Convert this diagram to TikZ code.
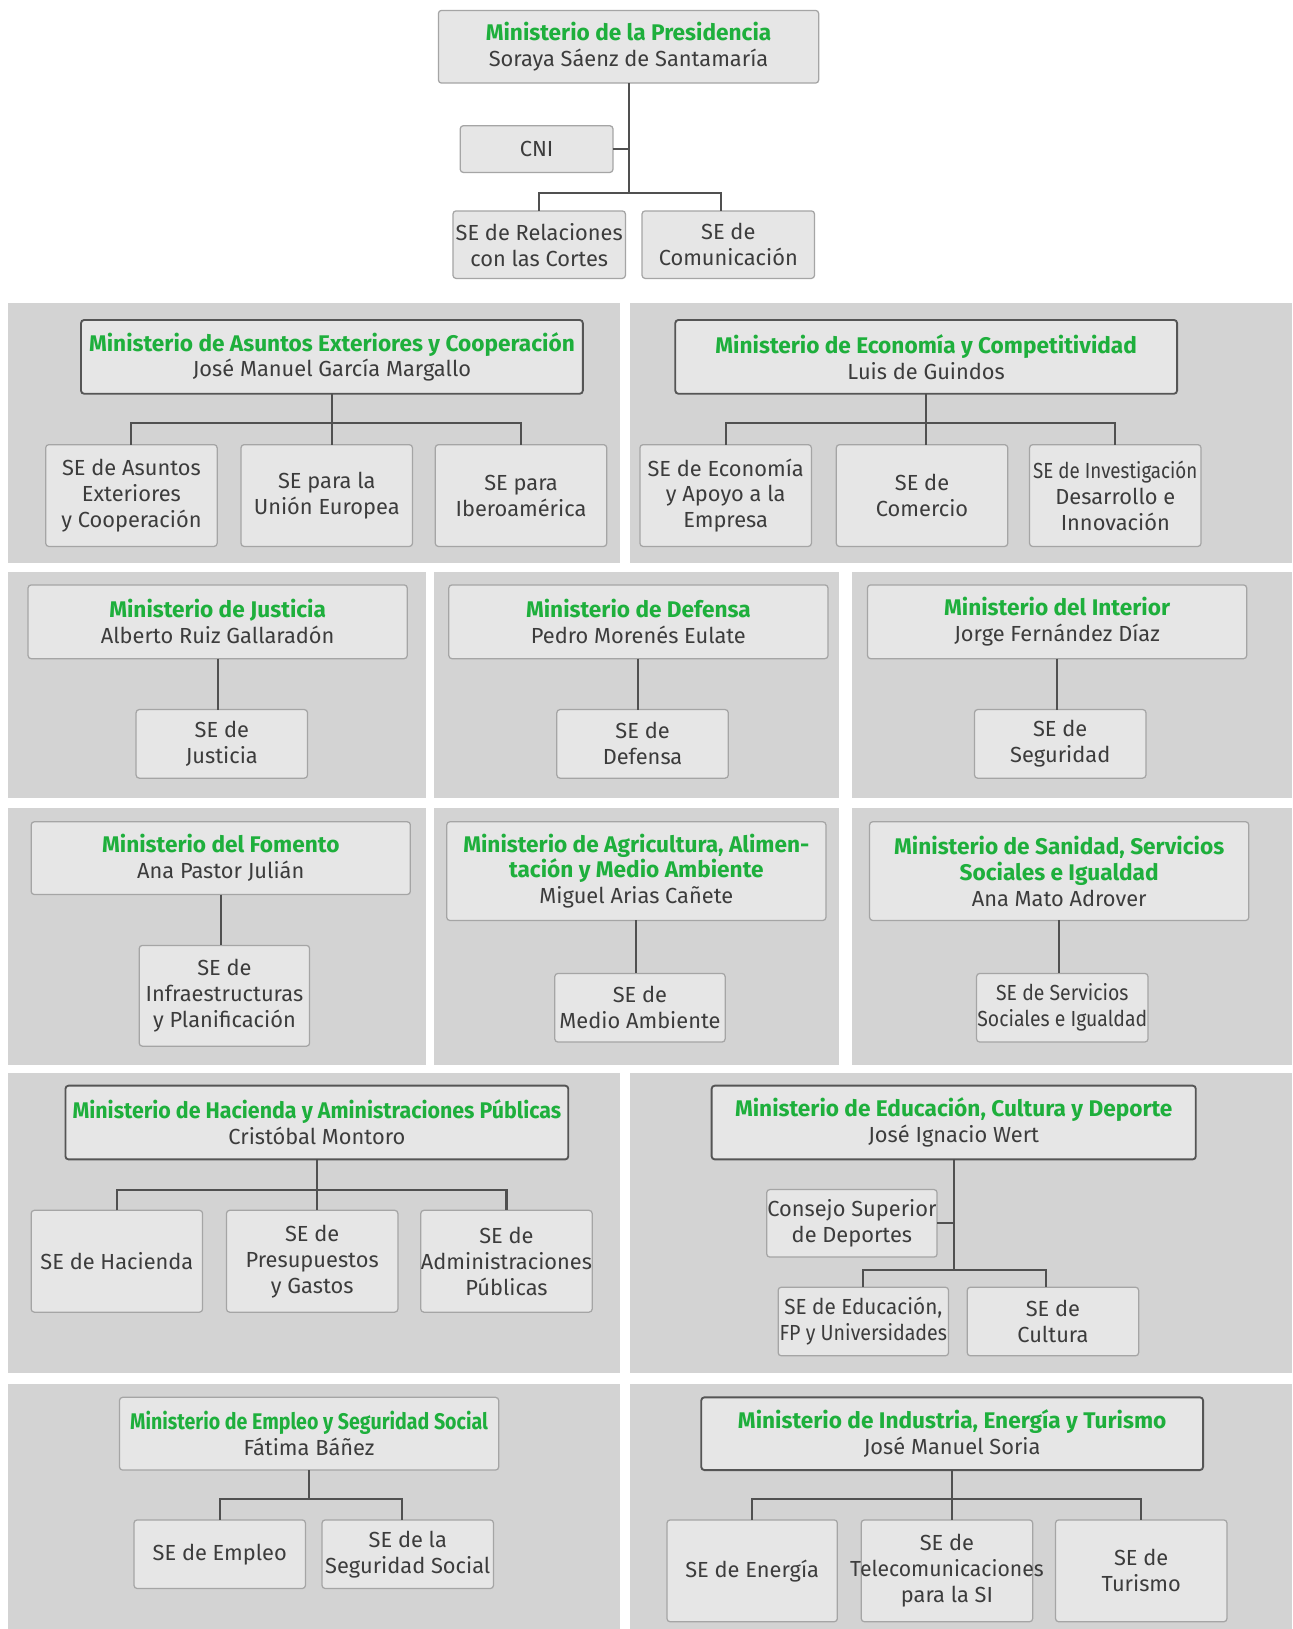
\documentclass[tikz,border=0pt]{standalone}
\usepackage{fontspec}
\setmainfont{Fira Sans}
\usepackage{graphicx}
\definecolor{panelgray}{RGB}{211,211,211}
\definecolor{boxfill}{RGB}{230,230,230}
\definecolor{lightborder}{RGB}{165,165,165}
\definecolor{darkborder}{RGB}{85,85,85}
\definecolor{mingreen}{RGB}{30,175,60}
\definecolor{txtgray}{RGB}{60,60,60}
\definecolor{linegray}{RGB}{80,80,80}
\newcommand{\mintitle}[1]{{\fontsize{10.9}{12.5}\selectfont\color{mingreen}\bfseries #1}}
\newcommand{\narrowtxt}[2][0.86]{\scalebox{#1}[1]{#2}}
\begin{document}
\begin{tikzpicture}[x=0.5pt,y=-0.5pt,
  basebox/.style={draw=lightborder, fill=boxfill, rounded corners=1.5pt, line width=0.6pt,
    inner sep=0pt, outer sep=0pt, anchor=north west, align=center, text=txtgray,
    font=\fontsize{10.5}{12.5}\selectfont},
  sz/.style 2 args={minimum width=#1*0.5pt, minimum height=#2*0.5pt},
  minbox/.style={basebox},
  mindark/.style={basebox, draw=darkborder, line width=0.9pt},
  sebox/.style={basebox},
  conn/.style={draw=linegray, line width=1pt},
  panel/.style={fill=panelgray, draw=none}]
\useasboundingbox (0,0) rectangle (1244,1568);
\fill[white] (0,0) rectangle (1244,1568);

% ---------------- Presidencia ----------------
\node[minbox, sz={366}{70}] (pres) at (422,10) {\mintitle{Ministerio de la Presidencia}\\Soraya Sáenz de Santamaría};
\node[sebox, sz={147}{45}] (cni) at (443,121) {CNI};
\node[sebox, sz={166}{65}] (rel) at (436,203) {SE de Relaciones\\con las Cortes};
\node[sebox, sz={166}{65}] (com) at (618,203) {SE de\\Comunicación};
\coordinate (presb) at (604,186);
\draw[conn] (pres.south) -- (pres.south |- presb);
\draw[conn] (cni.east) -- (cni.east -| pres.south);
\draw[conn] (rel.north) -- (rel.north |- presb) -- ([xshift=-3.5pt]com.north |- presb) -- ([xshift=-3.5pt]com.north);

% ---------------- Row 1 ----------------
\fill[panel] (8,292) rectangle (597,542);
\fill[panel] (606,292) rectangle (1244,542);

\node[mindark, sz={483}{71}] (mae) at (78,308) {\mintitle{Ministerio de Asuntos Exteriores y Cooperación}\\José Manuel García Margallo};
\node[sebox, sz={165}{98}] (mae1) at (44,428) {SE de Asuntos\\Exteriores\\y Cooperación};
\node[sebox, sz={165}{98}] (mae2) at (232,428) {SE para la\\Unión Europea};
\node[sebox, sz={165}{98}] (mae3) at (419,428) {SE para\\Iberoamérica};
\coordinate (maeb) at (315,407);
\draw[conn] (mae.south) -- (mae.south |- mae2.north);
\draw[conn] (mae1.north) -- (mae1.north |- maeb) -- (mae3.north |- maeb) -- (mae3.north);

\node[mindark, sz={483}{71}] (eco) at (650,308) {\mintitle{Ministerio de Economía y Competitividad}\\Luis de Guindos};
\node[sebox, sz={165}{98}] (eco1) at (616,428) {SE de Economía\\y Apoyo a la\\Empresa};
\node[sebox, sz={165}{98}] (eco2) at (805,428) {SE de\\Comercio};
\node[sebox, sz={165}{98}] (eco3) at (991,428) {\narrowtxt[0.86]{SE de Investigación}\\Desarrollo e\\Innovación};
\coordinate (ecob) at (887,407);
\draw[conn] (eco.south) -- (eco.south |- eco2.north);
\draw[conn] (eco1.north) -- (eco1.north |- ecob) -- (eco3.north |- ecob) -- (eco3.north);

% ---------------- Row 2 ----------------
\fill[panel] (8,551) rectangle (410,768);
\fill[panel] (418,551) rectangle (808,768);
\fill[panel] (820,551) rectangle (1244,768);

\node[minbox, sz={365}{71}] (jus) at (27,563) {\mintitle{Ministerio de Justicia}\\Alberto Ruiz Gallaradón};
\node[sebox, sz={165}{66}] (jus1) at (131,683) {SE de\\Justicia};
\draw[conn] (jus.south) -- (jus.south |- jus1.north);

\node[minbox, sz={365}{71}] (def) at (432,563) {\mintitle{Ministerio de Defensa}\\Pedro Morenés Eulate};
\node[sebox, sz={165}{66}] (def1) at (536,683) {SE de\\Defensa};
\draw[conn] (def.south) -- (def.south |- def1.north);

\node[minbox, sz={365}{71}] (int) at (835,563) {\mintitle{Ministerio del Interior}\\Jorge Fernández Díaz};
\node[sebox, sz={165}{66}] (int1) at (938,683) {SE de\\Seguridad};
\draw[conn] (int.south) -- (int.south |- int1.north);

% ---------------- Row 3 ----------------
\fill[panel] (8,778) rectangle (410,1025);
\fill[panel] (418,778) rectangle (808,1025);
\fill[panel] (820,778) rectangle (1244,1025);

\node[minbox, sz={365}{70}] (fom) at (30,791) {\mintitle{Ministerio del Fomento}\\Ana Pastor Julián};
\node[sebox, sz={164}{97}] (fom1) at (134,910) {SE de\\Infraestructuras\\y Planificación};
\draw[conn] (fom.south) -- (fom.south |- fom1.north);

\node[minbox, sz={365}{95}] (agr) at (430,791) {\mintitle{Ministerio de Agricultura, Alimen-}\\\mintitle{tación y Medio Ambiente}\\Miguel Arias Cañete};
\node[sebox, sz={164}{66}] (agr1) at (534,937) {SE de\\Medio Ambiente};
\draw[conn] (agr.south) -- (agr.south |- agr1.north);

\node[minbox, sz={365}{95}] (san) at (837,791) {\mintitle{Ministerio de Sanidad, Servicios}\\\mintitle{Sociales e Igualdad}\\Ana Mato Adrover};
\node[sebox, sz={165}{66}] (san1) at (940,937) {\narrowtxt[0.89]{SE de Servicios}\\\narrowtxt[0.89]{Sociales e Igualdad}};
\draw[conn] (san.south) -- (san.south |- san1.north);

% ---------------- Row 4 ----------------
\fill[panel] (8,1033) rectangle (597,1322);
\fill[panel] (606,1033) rectangle (1244,1322);

\node[mindark, sz={484}{71}] (hac) at (63,1045) {\mintitle{\narrowtxt[0.945]{Ministerio de Hacienda y Aministraciones Públicas}}\\Cristóbal Montoro};
\node[sebox, sz={165}{98}] (hac1) at (30,1165) {SE de Hacienda};
\node[sebox, sz={165}{98}] (hac2) at (218,1165) {SE de\\Presupuestos\\y Gastos};
\node[sebox, sz={165}{98}] (hac3) at (405,1165) {SE de\\\makebox[0pt]{Administraciones}\\Públicas};
\coordinate (hacb) at (301,1145);
\draw[conn] (hac.south) -- (hac.south |- hac2.north);
\draw[conn] (hac1.north) -- (hac1.north |- hacb) -- (hac3.north |- hacb) -- (hac3.north);

\node[mindark, sz={466}{71}] (edu) at (685,1045) {\mintitle{Ministerio de Educación, Cultura y Deporte}\\José Ignacio Wert};
\node[sebox, sz={164}{65}] (csd) at (738,1145) {Consejo Superior\\de Deportes};
\node[sebox, sz={164}{66}] (edu1) at (749,1239) {\narrowtxt[0.95]{SE de Educación,}\\\narrowtxt[0.9]{FP y Universidades}};
\node[sebox, sz={165}{66}] (edu2) at (931,1239) {SE de\\Cultura};
\coordinate (edub) at (916,1222);
\draw[conn] (edu.south) -- (edu.south |- edub);
\draw[conn] (csd.east) -- (csd.east -| edu.south);
\draw[conn] (edu1.north) -- (edu1.north |- edub) -- ([xshift=-3.5pt]edu2.north |- edub) -- ([xshift=-3.5pt]edu2.north);

% ---------------- Row 5 ----------------
\fill[panel] (8,1332) rectangle (597,1568);
\fill[panel] (606,1332) rectangle (1244,1568);

\node[minbox, sz={365}{70}] (emp) at (115,1345) {\mintitle{\narrowtxt[0.865]{Ministerio de Empleo y Seguridad Social}}\\Fátima Báñez};
\node[sebox, sz={165}{66}] (emp1) at (129,1463) {SE de Empleo};
\node[sebox, sz={165}{66}] (emp2) at (310,1463) {SE de la\\Seguridad Social};
\coordinate (empb) at (297,1443);
\draw[conn] (emp.south) -- (emp.south |- empb);
\draw[conn] (emp1.north) -- (emp1.north |- empb) -- ([xshift=-3pt]emp2.north |- empb) -- ([xshift=-3pt]emp2.north);

\node[mindark, sz={483}{70}] (ind) at (675,1345) {\mintitle{Ministerio de Industria, Energía y Turismo}\\José Manuel Soria};
\node[sebox, sz={164}{98}] (ind1) at (642,1463) {SE de Energía};
\node[sebox, sz={165}{98}] (ind2) at (829,1463) {SE de\\\makebox[0pt]{\narrowtxt[0.97]{Telecomunicaciones}}\\para la SI};
\node[sebox, sz={165}{98}] (ind3) at (1016,1463) {SE de\\Turismo};
\coordinate (indb) at (912,1443);
\draw[conn] (ind.south) -- (ind.south |- ind2.north);
\draw[conn] (ind1.north) -- (ind1.north |- indb) -- (ind3.north |- indb) -- (ind3.north);
\end{tikzpicture}
\end{document}
